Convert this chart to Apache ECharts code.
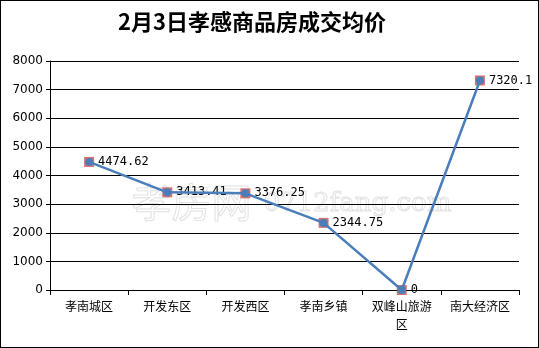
<!DOCTYPE html>
<html><head><meta charset="utf-8">
<script src="https://cdn.jsdelivr.net/npm/echarts@6/dist/echarts.min.js"></script>
<style>html,body{margin:0;padding:0;background:#fff}#c{width:539px;height:348px;box-sizing:border-box;border:1px solid #000}</style>
</head><body><div id="c"></div>
<script>
const titleText = '2月3日孝感商品房成交均价';
const categories = ['孝南城区','开发东区','开发西区','孝南乡镇','双峰山旅游\n区','南大经济区'];
const prices = [4474.62, 3413.41, 3376.25, 2344.75, 0, 7320.1];
const yTicks = [0, 1000, 2000, 3000, 4000, 5000, 6000, 7000, 8000];

const chart = echarts.init(document.getElementById('c'), null, {renderer:'canvas'});
chart.setOption({
  animation:false,
  title:{text:titleText,left:246,top:5,textAlign:'center',
    textStyle:{fontFamily:'Noto Sans CJK SC',fontWeight:'bold',fontSize:22,color:'#000'}},
  grid:{left:49,right:19,top:60,bottom:57,containLabel:false},
  xAxis:{type:'category',data:categories,boundaryGap:true,
    axisLine:{lineStyle:{color:'#000',width:1}},
    axisTick:{show:true,length:5,lineStyle:{color:'#000'}},
    axisLabel:{color:'#000',fontSize:12,fontFamily:'Noto Sans CJK SC',margin:7,lineHeight:18,interval:0}},
  yAxis:{type:'value',min:yTicks[0],max:yTicks[yTicks.length-1],interval:1000,
    axisLine:{show:true,lineStyle:{color:'#000'}},
    axisTick:{show:true,length:4,lineStyle:{color:'#000'}},
    splitLine:{lineStyle:{color:'#000',width:1}},
    axisLabel:{color:'#000',fontSize:12,fontFamily:'DejaVu Sans',margin:7,formatter:v=>String(v)}},
  graphic:[{type:'text',left:130,top:180,z:0,silent:true,
    style:{text:'孝房网',fontSize:40,fontFamily:'Noto Sans CJK SC',fill:'rgba(255,255,255,0)',stroke:'rgba(170,170,170,0.35)',lineWidth:1}},
   {type:'text',left:262,top:190,z:0,silent:true,
    style:{text:'0712fang.com',fontSize:26,fontFamily:'DejaVu Serif',fill:'rgba(255,255,255,0)',stroke:'rgba(170,170,170,0.35)',lineWidth:1}}],
  series:[
    {type:'scatter',data:prices,symbol:'rect',symbolSize:10,z:2,
      itemStyle:{color:'rgba(200,80,77,0.8)',borderWidth:0,opacity:1},
      label:{show:true,position:'right',distance:4,formatter:p=>String(p.value),
        color:'#000',fontSize:12,fontFamily:'DejaVu Sans Mono'}},
    {type:'line',data:prices,symbol:'circle',symbolSize:8,z:5,
      lineStyle:{color:'#4a7ebb',width:2.5},
      itemStyle:{color:'#4a7ebb'}}
  ]
});
</script></body></html>
